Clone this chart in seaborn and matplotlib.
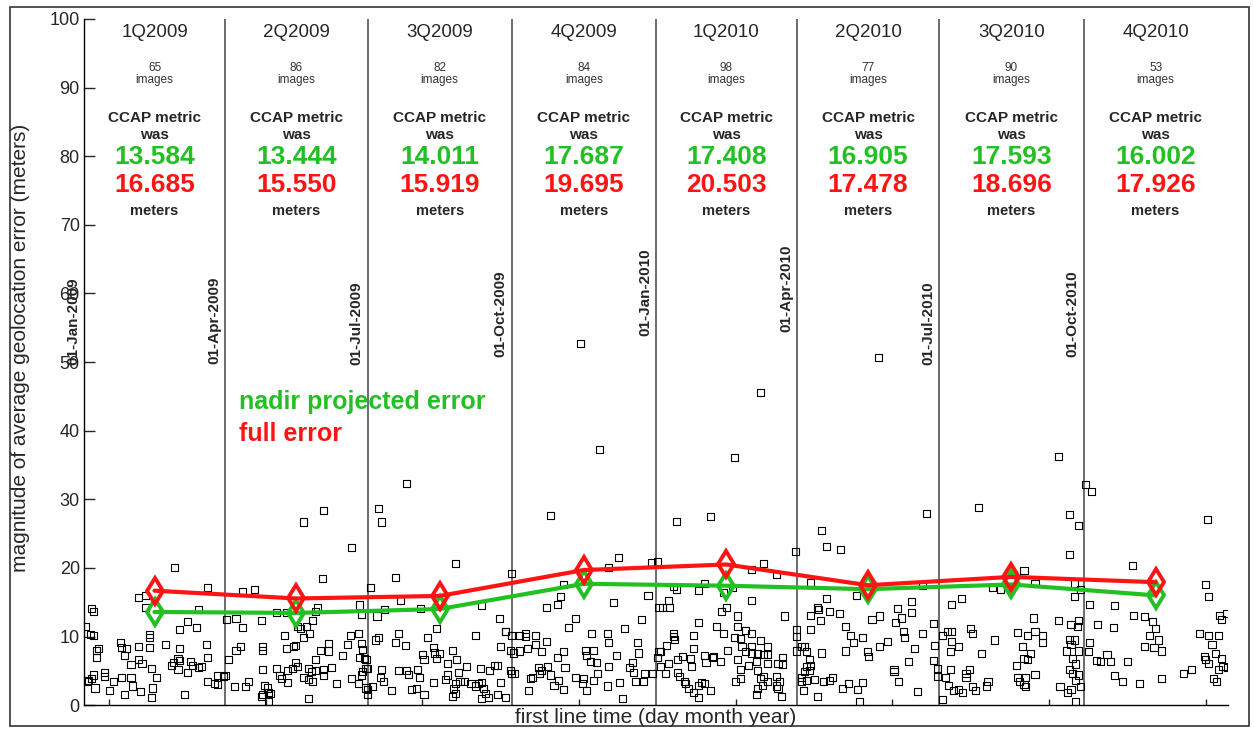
import pandas as pd
import matplotlib
matplotlib.use("Agg")
import matplotlib.pyplot as plt
import matplotlib.dates as mdates
from matplotlib.patches import Rectangle
import seaborn as sns

# per-image geolocation error, (days after 01-Jan-2009, error in meters)
q1_2009 = [(58,20.0),(79,17.1),(35,15.7),(39,16.0),(5,14.1),(6,13.7),(39,14.3),(73,13.9),(66,12.2),(61,11.0),(72,11.3),(1,11.5),(4,10.3),(6,10.2),(42,10.3),(42,9.8),(23,9.1),(52,8.9),(78,8.9),(35,8.5),(42,8.4),(24,8.4),(27,8.2),(9,8.3),(8,8.0),(61,8.2),(26,7.2),(8,6.9),(60,6.8),(61,6.5),(79,6.9),(68,6.4),(69,5.8),(35,6.6),(37,6.1),(30,5.9),(56,5.8),(57,6.2),(43,5.4),(60,5.2),(66,4.8),(73,5.5),(75,5.7),(13,4.7),(13,4.2),(6,4.4),(5,3.9),(3,3.6),(2,3.4),(24,4.0),(19,3.4),(30,4.1),(31,2.8),(46,4.0),(7,2.5),(16,2.1),(36,2.0),(44,2.5),(43,1.1),(26,1.6),(64,1.6),(79,3.4),(83,3.1),(85,4.3),(90,4.3),(85,3.0),(89,4.2)]
q2_2009 = [(171,23.0),(152,18.4),(101,16.5),(109,16.8),(149,14.2),(148,13.7),(123,13.5),(129,13.5),(176,14.6),(177,13.2),(91,12.5),(97,12.6),(113,12.4),(146,12.3),(101,11.3),(136,11.4),(138,11.2),(142,11.5),(144,10.5),(140,9.9),(128,10.1),(170,10.1),(175,10.5),(156,9.0),(168,8.9),(177,9.0),(100,8.5),(97,8.0),(114,8.5),(114,8.0),(135,8.7),(134,8.5),(129,8.2),(151,8.0),(156,7.9),(178,8.1),(176,7.0),(179,6.8),(165,7.3),(92,6.6),(148,6.7),(135,6.2),(136,5.7),(133,5.4),(130,5.1),(114,5.2),(123,5.4),(143,5.4),(145,4.9),(148,5.0),(153,5.2),(158,5.5),(125,4.3),(126,3.9),(130,3.3),(140,4.1),(143,3.7),(146,3.4),(153,4.3),(96,2.7),(103,2.7),(105,3.4),(115,2.9),(117,2.5),(118,1.9),(119,1.7),(114,1.5),(113,1.2),(118,0.6),(143,1.0),(161,3.2),(171,3.9),(175,3.2),(177,4.4),(178,4.9),(181,5.4),(181,1.6),(140,26.7),(153,28.4)]
q3_2009 = [(206,32.3),(188,28.6),(190,26.7),(237,20.7),(199,18.6),(183,17.2),(202,15.3),(273,19.2),(192,14.0),(215,14.1),(254,14.5),(187,13.0),(265,12.6),(225,11.2),(186,9.5),(188,9.8),(201,10.4),(199,9.1),(205,8.7),(219,9.9),(250,10.1),(269,10.8),(273,10.2),(223,8.4),(224,7.6),(227,7.5),(225,6.8),(235,8.0),(266,8.6),(272,8.0),(216,7.4),(217,6.7),(232,6.1),(238,6.7),(180,6.7),(190,5.2),(201,5.1),(206,5.0),(207,4.5),(213,5.2),(214,4.1),(244,5.7),(239,4.8),(253,5.4),(259,5.0),(262,5.8),(264,5.8),(272,5.0),(273,4.6),(189,4.0),(191,3.4),(184,2.7),(181,2.3),(196,2.2),(209,2.3),(212,2.4),(223,3.3),(231,3.7),(232,4.4),(237,3.1),(236,2.4),(237,1.7),(235,1.2),(240,3.5),(243,3.5),(247,3.2),(250,2.8),(252,3.2),(254,3.3),(255,2.4),(256,1.7),(254,1.0),(258,1.1),(266,3.3),(264,1.5),(269,1.1),(217,1.5),(180,5.4),(180,2.5)]
q4_2009 = [(317,52.7),(329,37.3),(298,27.7),(341,21.5),(362,20.8),(366,21.0),(306,17.6),(335,20.1),(360,16.0),(304,15.9),(302,14.7),(295,14.3),(338,14.9),(367,14.3),(314,12.6),(309,11.3),(356,12.5),(324,10.5),(334,10.5),(335,9.2),(345,11.2),(353,9.2),(269,10.7),(278,10.1),(282,10.4),(282,10.0),(288,10.1),(295,9.3),(288,8.9),(283,8.3),(278,7.9),(274,7.6),(292,7.8),(320,8.0),(325,8.0),(321,7.3),(306,7.8),(302,7.0),(340,7.3),(354,7.6),(367,7.8),(323,6.3),(327,6.2),(307,5.5),(335,5.6),(350,6.2),(348,5.5),(351,4.7),(358,4.6),(363,4.6),(275,4.6),(290,5.5),(292,5.0),(296,5.6),(298,4.4),(291,4.6),(285,3.9),(286,4.1),(303,3.6),(300,2.9),(306,2.3),(314,4.1),(319,3.9),(318,3.2),(321,2.2),(325,3.6),(328,4.6),(334,2.8),(342,3.3),(352,3.4),(357,3.5),(344,1.0),(284,2.2)]
q1_2010 = [(432,45.6),(415,36.1),(378,26.8),(400,27.5),(454,22.4),(434,20.7),(426,19.8),(442,19.0),(396,17.7),(376,17.3),(378,16.8),(392,16.7),(408,16.4),(414,17.2),(426,15.2),(373,15.2),(369,14.3),(374,14.3),(410,14.3),(407,13.7),(447,13.0),(417,13.0),(392,12.0),(404,11.4),(408,10.4),(417,11.5),(422,10.9),(426,10.4),(376,10.5),(376,10.0),(377,9.6),(389,10.2),(415,9.8),(419,9.7),(432,9.4),(436,8.6),(455,11.0),(455,10.0),(455,7.9),(372,8.7),(368,7.8),(366,7.0),(389,8.3),(411,8.0),(420,8.5),(426,8.6),(422,7.8),(426,7.6),(430,7.5),(434,7.4),(436,7.4),(382,7.1),(379,6.6),(387,6.8),(396,7.2),(401,7.0),(406,6.3),(397,6.2),(402,7.1),(417,6.7),(446,7.0),(443,6.1),(446,6.0),(436,6.1),(429,6.3),(373,6.1),(368,5.6),(371,4.6),(388,5.6),(424,5.8),(419,5.2),(419,3.9),(416,3.5),(379,4.7),(380,4.2),(383,3.5),(384,3.1),(386,2.4),(394,3.3),(396,3.2),(392,2.9),(430,5.1),(434,4.2),(432,3.9),(436,3.4),(433,2.9),(430,2.4),(429,1.5),(442,4.2),(444,3.4),(442,2.8),(443,2.4),(389,1.9),(392,1.1),(400,2.1),(445,1.3)]
q2_2010 = [(507,50.7),(538,28.0),(471,25.4),(474,23.1),(483,22.7),(464,17.9),(493,16.0),(535,17.4),(474,15.6),(468,14.3),(469,14.0),(464,13.1),(470,12.4),(476,13.6),(482,13.4),(519,14.1),(528,15.1),(528,13.5),(522,12.7),(518,12.0),(503,12.5),(508,13.0),(542,11.9),(464,11.0),(486,11.5),(489,10.2),(491,9.1),(497,9.8),(523,10.8),(524,9.8),(535,10.5),(513,9.3),(508,8.6),(543,8.7),(458,8.6),(460,8.5),(461,7.8),(471,7.6),(486,7.9),(500,7.8),(501,7.1),(530,8.3),(463,6.7),(461,5.7),(464,5.8),(463,5.0),(526,6.3),(542,6.5),(517,5.2),(517,4.9),(460,4.9),(458,4.1),(461,3.6),(458,3.5),(466,3.7),(472,3.4),(476,3.6),(478,4.1),(484,2.4),(488,3.2),(494,2.3),(497,3.3),(520,3.5),(459,2.2),(468,1.3),(495,0.6),(532,2.0),(545,5.4),(545,4.2)]
q3_2010 = [(622,36.3),(571,28.8),(629,27.8),(635,26.2),(629,21.9),(600,19.6),(607,17.7),(580,17.1),(585,16.8),(632,17.7),(632,15.9),(636,16.9),(554,14.7),(560,15.6),(606,12.7),(622,12.4),(630,11.8),(634,11.4),(635,12.4),(548,10.1),(551,10.7),(554,10.7),(554,9.3),(558,8.5),(553,7.8),(566,11.2),(567,10.5),(581,9.5),(573,7.5),(596,10.6),(602,10.2),(607,10.8),(612,10.2),(612,9.1),(599,8.5),(604,7.5),(600,6.8),(602,6.6),(595,5.8),(607,4.5),(596,4.0),(601,4.0),(597,3.5),(600,3.0),(601,2.7),(629,9.6),(632,9.5),(630,8.9),(627,7.9),(635,7.9),(631,6.8),(633,6.0),(629,5.2),(631,4.6),(635,4.4),(633,3.6),(636,2.7),(630,2.3),(628,1.8),(633,0.5),(550,4.0),(553,5.2),(565,5.2),(563,4.6),(563,4.1),(552,2.9),(555,2.2),(558,2.3),(561,1.8),(567,2.7),(569,2.2),(576,2.8),(577,3.5),(548,0.8),(623,2.7)]
q4_2010 = [(639,32.2),(643,31.1),(717,27.1),(669,20.4),(716,17.6),(718,15.9),(642,14.7),(658,14.5),(670,13.1),(677,12.9),(682,12.2),(684,11.2),(680,10.2),(686,9.5),(677,8.5),(683,8.4),(688,7.9),(647,11.8),(657,11.3),(725,13.1),(729,13.4),(726,12.5),(712,10.4),(718,10.1),(724,10.2),(720,8.9),(642,9.2),(641,7.8),(653,7.4),(655,6.3),(649,6.3),(646,6.5),(666,6.3),(715,7.1),(716,6.7),(722,7.5),(718,6.1),(726,6.8),(724,5.2),(727,5.6),(730,5.5),(658,4.3),(663,3.4),(674,3.1),(688,3.9),(702,4.6),(707,5.2),(721,3.9),(723,3.4)]

quarters = ["1Q2009", "2Q2009", "3Q2009", "4Q2009", "1Q2010", "2Q2010", "3Q2010", "4Q2010"]
n_images = [65, 86, 82, 84, 98, 77, 90, 53]
nadir_err = [13.584, 13.444, 14.011, 17.687, 17.408, 16.905, 17.593, 16.002]
full_err = [16.685, 15.550, 15.919, 19.695, 20.503, 17.478, 18.696, 17.926]

GREEN = "#22c022"
RED = "#ff1414"

t0 = pd.Timestamp("2009-01-01")
pts = q1_2009 + q2_2009 + q3_2009 + q4_2009 + q1_2010 + q2_2010 + q3_2010 + q4_2010
obs = pd.DataFrame(pts, columns=["day", "error"])
obs["date"] = t0 + pd.to_timedelta(obs["day"], unit="D")

q_start = pd.date_range("2009-01-01", periods=9, freq="QS")
q_mid = q_start[:-1] + (q_start[1:] - q_start[:-1]) / 2
summary = pd.DataFrame({"date": q_mid, "nadir": nadir_err, "full": full_err})

sns.set_style("white")
plt.rcParams["font.family"] = ["Liberation Sans", "DejaVu Sans"]

fig = plt.figure(figsize=(12.54, 7.3), dpi=100)
ax = fig.add_axes([0.067, 0.034, 0.912, 0.94])

sns.scatterplot(data=obs, x="date", y="error", marker="s", s=26,
                facecolor="none", edgecolor="black", linewidth=0.8, ax=ax, zorder=3)
sns.lineplot(data=summary, x="date", y="nadir", color=GREEN, linewidth=3,
             marker="d", markersize=13, markerfacecolor="none",
             markeredgecolor=GREEN, markeredgewidth=2.8, ax=ax, zorder=4)
sns.lineplot(data=summary, x="date", y="full", color=RED, linewidth=3,
             marker="d", markersize=13, markerfacecolor="none",
             markeredgecolor=RED, markeredgewidth=2.8, ax=ax, zorder=5)

# quarter separators with rotated date labels
date_label_top = [62.4, 62.4, 61.7, 63.4, 66.6, 67.1, 61.7, 63.4]
for d, ytop in zip(q_start[:-1], date_label_top):
    ax.axvline(d, color="#444444", linewidth=1.1, zorder=1)
    ax.text(mdates.date2num(d - pd.Timedelta(days=2.5)), ytop, d.strftime("%d-%b-%Y"),
            rotation=90, ha="right", va="top", fontsize=11, fontweight="bold")

# per-quarter annotations
for i, q in enumerate(quarters):
    x = mdates.date2num(q_mid[i])
    ax.text(x, 98.0, q, ha="center", va="center", fontsize=13.5)
    ax.text(x, 92.9, str(n_images[i]), ha="center", va="center", fontsize=8.5, color="#333333")
    ax.text(x, 91.1, "images", ha="center", va="center", fontsize=8.5, color="#333333")
    ax.text(x, 85.6, "CCAP metric", ha="center", va="center", fontsize=11, fontweight="bold")
    ax.text(x, 83.1, "was", ha="center", va="center", fontsize=11, fontweight="bold")
    ax.text(x, 79.9, f"{nadir_err[i]:.3f}", ha="center", va="center", fontsize=19,
            fontweight="bold", color=GREEN)
    ax.text(x, 75.8, f"{full_err[i]:.3f}", ha="center", va="center", fontsize=19,
            fontweight="bold", color=RED)
    ax.text(x, 72.0, "meters", ha="center", va="center", fontsize=10.5, fontweight="bold")

leg_x = mdates.date2num(pd.Timestamp("2009-04-10"))
ax.text(leg_x, 44.2, "nadir projected error", color=GREEN, fontsize=18,
        fontweight="bold", ha="left", va="center")
ax.text(leg_x, 39.5, "full error", color=RED, fontsize=18,
        fontweight="bold", ha="left", va="center")

ax.set_xlim(pd.Timestamp("2009-01-01"), pd.Timestamp("2011-01-01"))
ax.set_ylim(0, 100)
ax.set_yticks(range(0, 101, 10))
ax.set_xticks(pd.date_range("2009-01-17", periods=8, freq="100D"))
ax.set_xticklabels([])
ax.tick_params(axis="y", direction="in", length=8, width=1, labelsize=13, pad=3, left=True)
ax.tick_params(axis="x", direction="in", length=4, width=1, bottom=True)
for s in ["top", "right"]:
    ax.spines[s].set_visible(False)
for s in ["left", "bottom"]:
    ax.spines[s].set_color("black")
    ax.spines[s].set_linewidth(1)

ax.set_ylabel("magnitude of average geolocation error (meters)", fontsize=15)
ax.yaxis.set_label_coords(-0.047, 0.52)
ax.set_xlabel("first line time (day month year)", fontsize=15)
ax.xaxis.set_label_coords(0.5, -0.004)

fig.patches.append(Rectangle((10 / 1254, 4 / 730), 1239 / 1254, 719 / 730,
                             transform=fig.transFigure, fill=False,
                             edgecolor="#333333", linewidth=1.2))

fig.savefig("out.png", dpi=100)
